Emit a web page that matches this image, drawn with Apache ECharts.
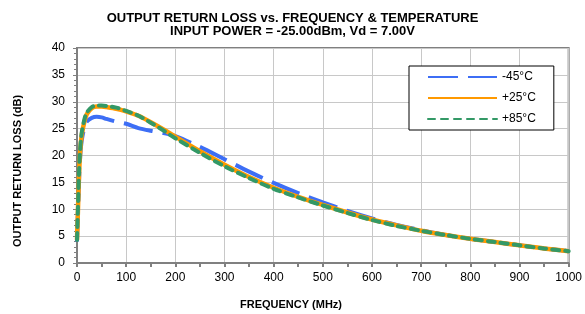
<!DOCTYPE html>
<html>
<head>
<meta charset="utf-8">
<script src="https://cdn.jsdelivr.net/npm/echarts@6/dist/echarts.min.js"></script>
<style>
  html, body { margin: 0; padding: 0; background: #fff; }
  #chart { width: 585px; height: 314px; }
</style>
</head>
<body>
<div id="chart"></div>
<script>
// frequency points (MHz)
const freq = [0, 2, 4, 6, 8, 10, 15, 20, 30, 40, 50, 60, 80, 100, 125, 150, 175, 200, 250, 300, 350, 400, 450, 500, 550, 600, 650, 700, 750, 800, 850, 900, 950, 1000]

// output return loss (dB)
const rlMinus45 = [4.0, 9.5, 15.0, 19.0, 21.5, 23.0, 25.2, 26.3, 27.0, 27.2, 27.1, 26.8, 26.3, 25.9, 25.1, 24.6, 24.2, 23.6, 21.6, 19.3, 17.0, 14.9, 13.0, 11.3, 9.7, 8.3, 7.1, 6.1, 5.2, 4.5, 3.9, 3.3, 2.7, 2.2]
const rlPlus25 = [4.3, 10.0, 16.0, 20.0, 22.5, 24.0, 26.3, 27.7, 28.8, 29.1, 29.1, 29.0, 28.7, 28.2, 27.4, 26.2, 24.9, 23.5, 20.8, 18.3, 16.0, 14.0, 12.3, 10.8, 9.4, 8.1, 7.0, 6.0, 5.2, 4.5, 3.9, 3.3, 2.7, 2.2]
const rlPlus85 = [4.3, 10.5, 16.5, 20.5, 23.0, 24.5, 26.7, 28.0, 29.0, 29.3, 29.3, 29.2, 28.9, 28.3, 27.4, 26.1, 24.7, 23.2, 20.5, 18.0, 15.8, 13.8, 12.2, 10.7, 9.3, 8.0, 6.9, 6.0, 5.2, 4.5, 3.9, 3.3, 2.7, 2.2]

const seriesNames = ['-45°C', '+25°C', '+85°C']

const pairs = vals => freq.map((f, i) => [f, vals[i]])

const chart = echarts.init(document.getElementById('chart'))

const font = 'Liberation Sans, Arial, sans-serif'
const axisFont = { fontFamily: font, fontSize: 12, color: '#000' }

chart.setOption({
  animation: false,
  title: {
    text: 'OUTPUT RETURN LOSS vs. FREQUENCY & TEMPERATURE\nINPUT POWER = -25.00dBm, Vd = 7.00V',
    left: 'center',
    top: 7,
    textStyle: {
      fontFamily: font,
      fontSize: 13,
      fontWeight: 'bold',
      color: '#000',
      lineHeight: 13
    }
  },
  graphic: [
    {
      type: 'text',
      x: 18,
      y: 171,
      rotation: Math.PI / 2,
      style: {
        text: 'OUTPUT RETURN LOSS (dB)',
        font: 'bold 11px ' + font,
        fill: '#000',
        align: 'center',
        verticalAlign: 'middle'
      }
    },
    {
      type: 'text',
      x: 291,
      y: 305,
      style: {
        text: 'FREQUENCY (MHz)',
        font: 'bold 11px ' + font,
        fill: '#000',
        align: 'center',
        verticalAlign: 'middle'
      }
    }
  ],
  grid: {
    left: 77,
    right: 10,
    top: 48,
    bottom: 51,
    show: true,
    borderColor: '#808080',
    borderWidth: 2
  },
  legend: {
    orient: 'vertical',
    left: 409,
    top: 66,
    padding: [5, 18, 5, 18],
    itemWidth: 69,
    itemHeight: 12,
    itemGap: 9,
    backgroundColor: '#fff',
    borderColor: '#000',
    borderWidth: 1,
    itemStyle: { opacity: 0 },
    textStyle: { fontFamily: font, fontSize: 12, color: '#000' },
    data: seriesNames
  },
  xAxis: {
    type: 'value',
    min: 0,
    max: 1000,
    interval: 100,
    axisLine: { lineStyle: { color: '#808080', width: 2 } },
    axisTick: { show: true, length: 4, lineStyle: { color: '#808080', width: 2 } },
    minorTick: { show: true, splitNumber: 2, length: 4, lineStyle: { color: '#808080', width: 2 } },
    axisLabel: { ...axisFont, margin: 9, formatter: v => String(v) },
    splitLine: { show: true, lineStyle: { color: '#c8c8c8', width: 1 } }
  },
  yAxis: {
    type: 'value',
    min: 0,
    max: 40,
    interval: 5,
    axisLine: { show: true, lineStyle: { color: '#808080', width: 2 } },
    axisTick: { show: true, length: 4, lineStyle: { color: '#808080', width: 1 } },
    minorTick: { show: true, splitNumber: 5, length: 3, lineStyle: { color: '#808080', width: 1 } },
    axisLabel: { ...axisFont, margin: 12 },
    splitLine: { show: true, lineStyle: { color: '#c8c8c8', width: 1 } }
  },
  series: [
    {
      name: seriesNames[0],
      type: 'line',
      data: pairs(rlMinus45),
      symbol: 'none',
      smooth: 0.3,
      z: 2,
      itemStyle: { color: '#3d6ef5' },
      lineStyle: { color: '#3d6ef5', width: 4, type: [30, 10] }
    },
    {
      name: seriesNames[1],
      type: 'line',
      data: pairs(rlPlus25),
      symbol: 'none',
      smooth: 0.3,
      z: 3,
      itemStyle: { color: '#ff9900' },
      lineStyle: { color: '#ff9900', width: 4.5 }
    },
    {
      name: seriesNames[2],
      type: 'line',
      data: pairs(rlPlus85),
      symbol: 'none',
      smooth: 0.3,
      z: 4,
      itemStyle: { color: '#339966' },
      lineStyle: { color: '#339966', width: 4, type: [7, 6], cap: 'round' }
    }
  ]
})
</script>
</body>
</html>
